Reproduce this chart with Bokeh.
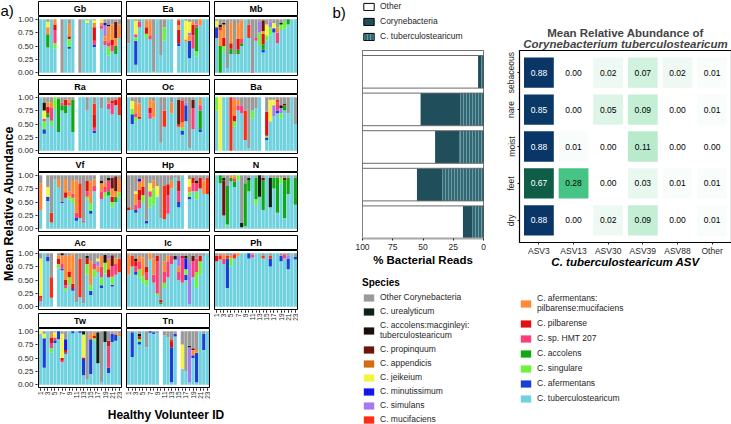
import math, re
import numpy as np
from bokeh.plotting import figure
from bokeh.layouts import row, column
from bokeh.models import (ColumnDataSource, Range1d, FactorRange, FixedTicker,
                          NumeralTickFormatter, Legend, LegendItem, LinearColorMapper, Title)
from bokeh.transform import dodge, transform
from bokeh.core.properties import value
from bokeh.embed import file_html
from bokeh.resources import INLINE

FONT = "Liberation Sans"

# ---------------- data ----------------
SPECIES_CODES = ["OC", "UR", "AMT", "PR", "AP", "JE", "MI", "SI", "MU",
                 "APM", "PI", "HMT", "AC", "SG", "AF", "TU"]
SPECIES_LABELS = ["Other Corynebacteria", "C. urealyticum",
                  "C. accolens:macginleyi:\ntuberculostearicum", "C. propinquum",
                  "C. appendicis", "C. jeikeium", "C. minutissimum", "C. simulans",
                  "C. mucifaciens", "C. afermentans:\npilbarense:mucifaciens",
                  "C. pilbarense", "C. sp. HMT 207", "C. accolens", "C. singulare",
                  "C. afermentans", "C. tuberculostearicum"]
SPECIES_COLORS = ["#9a9a9a", "#0d2116", "#1c0e0b", "#6b150c", "#d16d13", "#f4f53d",
                  "#1414ee", "#a47af0", "#ff2b12", "#ff8a33", "#e30e0e", "#ff3d7a",
                  "#0fa812", "#6cf43c", "#1a3fd6", "#70d2df"]

VOLUNTEERS = list(range(1, 24))
VOL_LABELED = list(range(1, 24, 2))

# each bar: species code + percent; remainder = Other Corynebacteria; "" = no sample
Gb = ["TU100", "TU100", "TU47 AC25 JE10 APM13", "TU100", "TU45 SG10 HMT25 PI10 APM10", "",
      "OC100", "TU100", "TU45 AF3 SG15 PI5 APM25", "TU100", "", "OC100",
      "TU100", "TU93 JE5", "TU100", "TU48 AF4 HMT8 PI25 APM8 JE5", "", "TU82 HMT6 APM6 JE6",
      "TU52 HMT8 APM8 SI20 MI5", "TU32 SG17 HMT8 APM30 UR3", "TU40 HMT12 PI10 APM28",
      "TU35 AC15 APM15 PR30", "TU65 APM25"]
Ea = ["TU55", "TU100", "TU15 AF45 SG7 HMT5 JE25", "TU85 HMT10", "TU100", "TU65 SG8 PI12 APM12",
      "TU62 HMT8 APM27", "SG2", "TU100", "TU33", "TU60 SG25", "TU100",
      "TU100", "", "TU50 AF5 PI25 APM8 MU10", "TU100", "TU58 APM4 JE35", "TU27 AF33 APM10 SI5 JE20",
      "TU45 HMT25 PI20 APM5", "TU30 SG10 AC45 HMT5", "TU88 APM12", "TU100", "TU100"]
Mb = ["TU65 AF20 JE12", "AC50 APM30 MU5 UR5", "TU40 SG10 PI15 APM25 AMT3", "TU8",
      "TU35 AC10 PI10 APM40", "TU35", "TU35 AC8 PI20 APM30", "TU50 AC5 HMT8 APM35", "TU100",
      "TU65 MU25", "HMT3", "TU60 HMT5", "TU50 SG25 SI20", "TU38 AF5 AC10 PI20 APM5 PR20",
      "TU60 SG10 JE20", "TU70 SG15 SI10", "TU75 AF8 JE10", "TU55 HMT20 APM10", "TU80 SG10 UR4",
      "TU82 SG15", "TU90 AC10", "TU100", "TU100"]
Ra = ["TU100", "TU32 AF8 SG15 HMT5 JE15 AMT15", "TU62 AC8 PI12 APM8", "TU48 SG8 HMT25 APM10",
      "TU78 SG22", "TU35 AC62", "TU75 AC10 HMT5", "TU70 AC15 PI10", "TU85 HMT5 APM5",
      "TU35 AC60", "", "TU100", "TU100", "TU75", "TU100", "TU33 AF5 HMT5 PI25 MU20", "TU100",
      "TU80", "TU100", "TU78 HMT10 APM5", "TU68 HMT20 PI5", "TU85 PI10", "TU67 MU33"]
Oc = ["TU100", "TU50 AF18 SG10 JE15", "TU55 SG8 HMT7 APM20", "TU60 PI3 APM25", "TU100",
      "TU100", "TU60 HMT10 PI10 APM15", "TU62 APM30", "TU100", "TU15", "TU45 MU30", "TU100",
      "TU70 APM20", "TU100", "TU45 MU5 PR45", "TU30 AF8 SG5 APM10 MU40", "TU55 AF30 SI5", "TU5",
      "TU40 HMT40 PR15", "TU100", "TU35 AF5 AC35 HMT10 APM10", "TU100", "TU100"]
Ba = ["TU75 SG25", "JE100", "TU100", "TU100", "MU100", "TU45 SG10 PI10 APM30",
      "TU75 HMT10 APM10 SI3", "TU70 HMT15", "TU20 MU55", "TU5", "TU60 SG15", "TU80",
      "TU100", "", "TU20 AF5 SG3 PI45", "TU55 JE40", "TU65 SI20 JE10", "TU70 AF5 HMT15 MU5",
      "TU60 SG10 SI10 AMT5", "TU75 AC10 PR3", "TU70", "TU100", "TU50"]
Vf = ["TU35 APM50", "", "TU52 AF8 JE18", "TU12 MU18", "TU92", "TU78 APM15", "TU48 AF2",
      "TU58 PI10 APM25", "TU55 SG5 APM10", "TU48 SG10 HMT8 APM25", "TU15 AF5 HMT10 APM60",
      "TU20 MU65", "TU12 HMT3", "TU55 SG5 HMT10 PI20", "TU28 AF5 SG15 APM40", "TU70 HMT10 APM12",
      "", "TU55 HMT15 APM15 UR5", "TU58 SG10 HMT10 APM10", "TU62 AC8 HMT20 UR5",
      "TU40 SG10 PI10 APM15 PR20", "TU50 AC10 APM10 PR28", "TU58 SG10 APM25"]
Hp = ["TU35 PI5", "TU35", "TU30 AF5 HMT10 APM20 JE5", "TU38 HMT15 PI20 APM15 MI5",
      "TU48 SG15 PI15 APM15", "TU10 AF5", "TU40 SG20 HMT10 JE15", "TU45 SG30 APM15", "TU60 JE20",
      "TU20", "TU18 MU62", "TU28 HMT35 PI20", "TU75 APM15", "TU95", "TU40 AF10 HMT20 PI20",
      "TU100", "", "TU55 AF5 SG8 APM10 JE15", "TU70 HMT15 PI10", "TU55 SG15 HMT15 UR5",
      "TU75 PI20", "TU65 APM25", "TU65 MU30"]
N = ["TU100", "TU85 AC15", "TU25 PR65 UR5", "TU5 SG3 AC72", "TU88 AC7 APM5", "TU78 AC10 HMT5 APM5",
     "TU90 SG10", "TU3 UR8", "TU5 AC80", "TU70 AC20 UR5", "TU100", "TU45 SG10 AC40", "TU60 UR40",
     "TU35 AC55 PR5", "TU100", "TU40 UR55", "TU75 AC20", "TU30 AC65", "TU85 SG10", "TU20 AC70 PR5",
     "TU65 AC30", "TU100", "TU45 AC50"]
Ac = ["TU10 HMT5 MU5 JE70", "TU100", "TU85 AF8", "TU17 MU38", "", "TU72 SG8 PI10 APM5",
      "TU68 AF3 HMT10 APM15 AMT4", "TU30 SG5 HMT5 PI10 APM45", "TU40 SG15 PI10 APM30",
      "TU30 AF3 PI10 APM55", "TU8", "TU18 MU72", "TU6", "TU60 SG20 PI10 UR5", "TU22 AF8 SG10 APM45",
      "TU55 SG15 HMT10", "TU65 APM10 SI10 JE5", "TU35 AF5 SG15 HMT20 APM20", "TU62 SG20 AMT15",
      "TU55 PI15 APM20 SI5", "TU38 AF3 SG15 HMT20 PR20", "TU60 HMT20 APM10", "TU65 MU25"]
Ic = ["TU60 APM38", "TU75 MU20", "TU60 AF5 HMT10 PI10 AMT5", "TU55 SG15 HMT15 APM10",
      "TU45 SG12 APM35", "TU40 SG10 HMT15 PI10", "TU88 APM12", "TU45 HMT15 APM30",
      "TU20 SG5 HMT60 PI10", "TU5 AC3 PI5", "TU35 SG10 HMT20 APM20", "TU55 HMT30 APM10",
      "TU80 HMT15", "TU88 UR7", "TU50 HMT15 APM10 SI20", "TU45 HMT45 PI5", "TU50 AF10 SG10 MI20 UR5",
      "TU5 SI75", "TU55 HMT30 PR10", "TU35 SG30 HMT25", "TU60 SG25 PI10", "TU95", "TU100"]
Ph = ["TU85 PI10", "TU88 MU8", "TU80 HMT10 APM8", "TU35 AF55 MU5", "TU75 SG15 APM5", "TU90 MU8",
      "TU95 APM5", "TU100", "TU100", "TU90 AF10", "TU92 HMT5", "TU100", "TU100", "TU90 MU5",
      "TU100", "TU75 AF15 MU5", "TU100", "TU100", "TU85 AF10", "TU90 HMT8", "TU70 AF20 SI5",
      "TU100", "TU88 AF5"]
Tw = ["TU95 JE5", "TU32 AF55 JE8", "TU100", "TU60 SG8 HMT10 PI10 APM7", "TU78 AF5 HMT5 JE10",
      "TU85 AF15", "TU42 HMT3 PI5 JE45", "TU58 AF2 PI5 MI20", "TU100", "TU96 AF4", "TU100",
      "TU97 MI3", "TU18 AF30 PI3 JE43 UR6", "TU10", "TU20 AF65 APM10", "TU82 SG5 PI5 APM5",
      "TU40 UR58", "TU5", "TU80 UR20", "TU22 AF10 HMT40 PI10", "TU80 AF15", "TU82 AF12 APM3",
      "TU90 APM5"]
Tn = ["TU98", "TU52 AF46", "TU100", "TU75 AF5 SG5 PI5 AMT5", "TU100", "TU70", "TU97 AF3",
      "TU95 MI3", "TU96", "", "TU92", "TU88", "TU5 AF65 PI10 MU5", "TU90 AF5", "", "TU30 JE45",
      "TU25", "TU5 SI65 UR3", "TU50 AF5 APM10 PR3", "TU5 AF55 APM5", "TU100", "TU65 AF30", "TU100"]

FACET_NAMES = ["Gb", "Ea", "Mb", "Ra", "Oc", "Ba", "Vf", "Hp", "N", "Ac", "Ic", "Ph", "Tw", "Tn"]
FACET_DATA = [Gb, Ea, Mb, Ra, Oc, Ba, Vf, Hp, N, Ac, Ic, Ph, Tw, Tn]

# panel b
SITES = ["sebaceous", "nare", "moist", "feet", "dry"]
CORY_PCT = [4.5, 52, 40, 55, 17]      # % reads Corynebacteria (incl. C. tuberculostearicum)
TUB_PCT = [1.8, 19, 20, 34, 9]        # % reads C. tuberculostearicum
PCT_TICKS = [0, 25, 50, 75, 100]

ASVS = ["ASV3", "ASV13", "ASV30", "ASV39", "ASV88", "Other"]
SEBACEOUS = [0.88, 0.00, 0.02, 0.07, 0.02, 0.01]
NARE = [0.85, 0.00, 0.05, 0.09, 0.00, 0.01]
MOIST = [0.88, 0.01, 0.00, 0.11, 0.00, 0.00]
FEET = [0.67, 0.28, 0.00, 0.03, 0.01, 0.01]
DRY = [0.88, 0.00, 0.02, 0.09, 0.00, 0.01]
HEAT_ROWS = [SEBACEOUS, NARE, MOIST, FEET, DRY]

# ---------------- styles ----------------
COLOR = dict(zip(SPECIES_CODES, SPECIES_COLORS))
STACK = SPECIES_CODES[::-1]
CORY_COLOR = "#204e5b"
TUB_COLOR = "#326874"
HATCH = "#6c9ba4"
TXT = "#262626"


def parse_bar(s):
    parts = {c: float(n) for c, n in re.findall(r"([A-Z]+)(\d+)", s)}
    if s and "OC" not in parts:
        parts["OC"] = max(0.0, 100.0 - sum(parts.values()))
    return parts


def facet_source(bars):
    xs, b, t, c = [], [], [], []
    for vol, s in zip(VOLUNTEERS, bars):
        if not s:
            continue
        parts = parse_bar(s)
        y = 0.0
        for code in STACK:
            v = parts.get(code, 0.0)
            if v > 0:
                xs.append(vol); b.append(y / 100); t.append((y + v) / 100)
                c.append(COLOR[code]); y += v
    return ColumnDataSource(dict(x=xs, bottom=b, top=t, color=c))


def clean(p):
    p.outline_line_color = None
    p.grid.grid_line_color = None
    p.background_fill_color = "white"
    p.border_fill_color = "white"


def style_axis(ax, size="8px"):
    ax.major_label_text_font = FONT
    ax.major_label_text_font_size = size
    ax.major_label_text_color = TXT
    ax.axis_line_color = None
    ax.major_tick_line_color = TXT
    ax.major_tick_out = 2
    ax.major_tick_in = 0
    ax.minor_tick_line_color = None
    ax.major_label_standoff = 2


FW_IN, FH_IN, STRIP, SGAP = 83, 59, 14, 1
FRAME_W = FW_IN + 2
FRAME_H = FH_IN + STRIP + SGAP + 2
PPX = FW_IN / 23.2
PPY = FH_IN / 1.1
YLAB_W, LEFT_B, BOT_B = 14, 21, 14
COL_SP, ROW_SP = 3, 2


def facet_fig(name, bars, left_axis, bottom_axis):
    p = figure(frame_width=FRAME_W, frame_height=FRAME_H,
               x_range=Range1d(0.4 - 1 / PPX, 23.6 + 1 / PPX),
               y_range=Range1d(-0.05 - 1 / PPY, 1.05 + (SGAP + STRIP + 1) / PPY),
               output_backend="svg", toolbar_location=None,
               x_axis_location="below" if bottom_axis else None,
               y_axis_location="left" if left_axis else None,
               min_border_left=LEFT_B if left_axis else 0, min_border_right=0,
               min_border_top=0, min_border_bottom=BOT_B if bottom_axis else 0)
    clean(p)
    p.vbar(x="x", bottom="bottom", top="top", width=0.9, fill_color="color",
           line_color=None, source=facet_source(bars))
    p.quad(left=[0.4], right=[23.6], bottom=[-0.05], top=[1.05],
           fill_color=None, line_color="black", line_width=1)
    s0 = 1.05 + SGAP / PPY
    s1 = 1.05 + (SGAP + STRIP) / PPY
    p.quad(left=[0.4], right=[23.6], bottom=[s0], top=[s1],
           fill_color="white", line_color="black", line_width=1)
    p.text(x=[12], y=[(s0 + s1) / 2], text=[name], text_font=value(FONT),
           text_font_style="bold", text_font_size="9px", text_align="center",
           text_baseline="middle", text_color="black")
    if left_axis:
        ax = p.yaxis[0]
        style_axis(ax)
        ax.ticker = FixedTicker(ticks=[0, 0.25, 0.5, 0.75, 1.0])
        ax.formatter = NumeralTickFormatter(format="0.00")
    if bottom_axis:
        ax = p.xaxis[0]
        style_axis(ax, "6.5px")
        ax.ticker = FixedTicker(ticks=VOL_LABELED, minor_ticks=VOLUNTEERS)
        ax.minor_tick_line_color = TXT
        ax.minor_tick_out = 2
        ax.minor_tick_in = 0
        ax.major_label_orientation = math.pi / 2
        ax.major_label_standoff = 1
    return p


def deco_fig(w, h):
    p = figure(width=w, height=h, x_range=Range1d(0, w), y_range=Range1d(0, h),
               x_axis_location=None, y_axis_location=None, output_backend="svg",
               toolbar_location=None, min_border_left=0, min_border_right=0,
               min_border_top=0, min_border_bottom=0)
    clean(p)
    return p


# ---------------- panel a ----------------
layout_cols = [[0, 3, 6, 9, 12], [1, 4, 7, 10, 13], [2, 5, 8, 11]]
cols = []
for ci, idxs in enumerate(layout_cols):
    figs = []
    for k, fi in enumerate(idxs):
        figs.append(facet_fig(FACET_NAMES[fi], FACET_DATA[fi], ci == 0, k == len(idxs) - 1))
    cols.append(column(figs, spacing=ROW_SP))
grid = row(cols, spacing=COL_SP)

GRID_H = 5 * FRAME_H + 4 * ROW_SP + BOT_B
ylab = deco_fig(YLAB_W, GRID_H)
ylab.text(x=[YLAB_W / 2 + 1], y=[GRID_H - 203], text=["Mean Relative Abundance"],
          angle=math.pi / 2, text_font=value(FONT), text_font_style="bold",
          text_font_size="12.5px", text_align="center", text_baseline="middle",
          text_color="black")
ylab.text(x=[0], y=[GRID_H - 1], text=["a)"], text_font=value(FONT), text_font_size="15px",
          text_align="left", text_baseline="top", text_color="black")

PANEL_A_W = YLAB_W + LEFT_B + 3 * FRAME_W + 2 * COL_SP
XLAB_H = 424 - GRID_H
xlab = deco_fig(PANEL_A_W, XLAB_H)
xlab.text(x=[YLAB_W + LEFT_B + (3 * FRAME_W + 2 * COL_SP) / 2], y=[XLAB_H - 12],
          text=["Healthy Volunteer ID"], text_font=value(FONT), text_font_style="bold",
          text_font_size="12px", text_align="center", text_baseline="middle",
          text_color="black")
panel_a = column(row(ylab, grid, spacing=0), xlab, spacing=0)

# ---------------- panel b: bar chart column ----------------
BAR_LB, BAR_RB, BAR_FW = 9, 3, 121
BARCOL_W = BAR_LB + BAR_FW + BAR_RB
TOPLG_H = 50
BAR_BB = 32
BAR_H = 188 + BAR_BB
BFIG_W = 360 - BAR_LB - PANEL_A_W
bfig = deco_fig(BFIG_W, 30)
bfig.text(x=[330 - PANEL_A_W], y=[27], text=["b)"], text_font=value(FONT),
          text_font_size="15px", text_align="left", text_baseline="top", text_color="black")

toplg = figure(width=BARCOL_W, height=TOPLG_H, x_range=Range1d(0, 1),
               y_range=Range1d(0, 1), x_axis_location=None, y_axis_location=None,
               output_backend="svg", toolbar_location=None, min_border_left=BAR_LB,
               min_border_right=BAR_RB, min_border_top=1, min_border_bottom=0)
clean(toplg)
# legend proxies (outside the visible range)
r_oth = toplg.quad(left=[2], right=[3], top=[3], bottom=[2], fill_color="white",
                   line_color="black", line_width=1)
r_cor = toplg.quad(left=[2], right=[3], top=[3], bottom=[2], fill_color=CORY_COLOR,
                   line_color="black", line_width=1)
r_tub = toplg.quad(left=[2], right=[3], top=[3], bottom=[2], fill_color=TUB_COLOR,
                   hatch_pattern="vertical_line", hatch_color=HATCH, hatch_scale=3,
                   hatch_weight=1, line_color="black", line_width=1)
tleg = Legend(items=[LegendItem(label="Other", renderers=[r_oth]),
                     LegendItem(label="Corynebacteria", renderers=[r_cor]),
                     LegendItem(label="C. tuberculostearicum", renderers=[r_tub])],
              location="top_left", margin=0, padding=0, spacing=5, glyph_width=13,
              glyph_height=9, label_height=9, label_standoff=5,
              label_text_font=FONT, label_text_font_size="8.5px",
              label_text_color=TXT, border_line_color=None, background_fill_alpha=0)
toplg.add_layout(tleg)

barfig = figure(width=BARCOL_W, height=BAR_H, x_range=Range1d(100, 0),
                y_range=FactorRange(*SITES[::-1]), y_axis_location=None,
                output_backend="svg", toolbar_location=None, min_border_left=BAR_LB,
                min_border_right=BAR_RB, min_border_top=0, min_border_bottom=BAR_BB)
clean(barfig)
barfig.outline_line_color = "#555555"
bsrc = ColumnDataSource(dict(site=SITES, cory=CORY_PCT, tub=TUB_PCT))
SH = 5 / (188 / 5)
ybar = dodge("site", -SH / 2, range=barfig.y_range)
barfig.hbar(y=ybar, left="cory", right=100, height=1 - SH, fill_color="white",
            line_color=None, source=bsrc)
barfig.hbar(y=ybar, left="tub", right="cory", height=1 - SH, fill_color=CORY_COLOR,
            line_color=None, source=bsrc)
barfig.hbar(y=ybar, left=0, right="tub", height=1 - SH, fill_color=TUB_COLOR,
            hatch_pattern="vertical_line", hatch_color=HATCH, hatch_scale=3,
            hatch_weight=1, line_color=None, source=bsrc)
barfig.hbar(y=dodge("site", 0.5 - SH / 2, range=barfig.y_range), left=0, right=100,
            height=SH, fill_color="white", line_color="#6a6a6a", line_width=1, source=bsrc)
bax = barfig.xaxis[0]
style_axis(bax, "8.5px")
bax.ticker = FixedTicker(ticks=PCT_TICKS)
bax.axis_line_color = "#a8a8a8"
bax.axis_line_width = 2
bax.major_label_standoff = 3
bax.axis_label = "% Bacterial Reads"
bax.axis_label_text_font = FONT
bax.axis_label_text_font_style = "bold"
bax.axis_label_text_font_size = "11.5px"
bax.axis_label_text_color = "black"
bax.axis_label_standoff = 1

# ---------------- panel b: heatmap ----------------
anchors = [(0.0, "#ffffff"), (0.01, "#f5fbf8"), (0.02, "#ecf9f2"), (0.05, "#dcf5e7"),
           (0.1, "#bdedd0"), (0.28, "#46c482"), (0.5, "#178a5a"), (0.67, "#0d5d47"),
           (0.8, "#0b3f69"), (0.9, "#0a3466")]
av = np.array([a[0] for a in anchors])
ac = np.array([[int(a[1][i:i + 2], 16) for i in (1, 3, 5)] for a in anchors], float)
grid_v = np.linspace(0, 0.9, 256)
pal = ["#%02x%02x%02x" % tuple(int(round(np.interp(g, av, ac[:, k]))) for k in range(3))
       for g in grid_v]
mapper = LinearColorMapper(palette=pal, low=0, high=0.9)

hx, hy, hv, hl, hc = [], [], [], [], []
for site, vals in zip(SITES, HEAT_ROWS):
    for asv, v in zip(ASVS, vals):
        hx.append(asv); hy.append(site); hv.append(v)
        hl.append("%.2f" % v); hc.append("white" if v > 0.5 else "black")
hsrc = ColumnDataSource(dict(asv=hx, site=hy, v=hv, label=hl, tc=hc))

HM_X0 = PANEL_A_W + BFIG_W + BARCOL_W
HM_W = 731 - HM_X0
HM_LB = 501 - HM_X0
HM_BB = 38
HM_H = TOPLG_H + 192 + HM_BB
hm = figure(width=HM_W, height=HM_H,
            x_range=FactorRange(*ASVS, range_padding=0.02),
            y_range=FactorRange(*SITES[::-1], range_padding=0.04),
            output_backend="svg", toolbar_location=None, min_border_left=HM_LB,
            min_border_right=2, min_border_top=TOPLG_H, min_border_bottom=HM_BB)
clean(hm)
hm.outline_line_color = "black"
hm.outline_line_width = 1.2
hm.rect(x="asv", y="site", width=0.86, height=0.82, fill_color=transform("v", mapper),
        line_color=None, source=hsrc)
hm.text(x="asv", y="site", text="label", text_color="tc", text_font=value(FONT),
        text_font_size="8.5px", text_align="center", text_baseline="middle", source=hsrc)
for ax in (hm.xaxis[0], hm.yaxis[0]):
    style_axis(ax, "8.5px")
hm.yaxis[0].major_label_orientation = "parallel"
hm.yaxis[0].major_label_standoff = 1
hm.xaxis[0].major_label_standoff = 1
hm.xaxis[0].axis_label = "C. tuberculostearicum ASV"
hm.xaxis[0].axis_label_text_font = FONT
hm.xaxis[0].axis_label_text_font_style = "bold italic"
hm.xaxis[0].axis_label_text_font_size = "11.5px"
hm.xaxis[0].axis_label_text_color = "black"
hm.xaxis[0].axis_label_standoff = -3
hm.add_layout(Title(text="Corynebacterium tuberculostearicum", align="center",
                    text_font=FONT, text_font_style="bold italic", text_font_size="11.5px",
                    standoff=1), "above")
hm.add_layout(Title(text="Mean Relative Abundance of", align="center", text_font=FONT,
                    text_font_style="bold", text_font_size="11.5px", standoff=-7), "above")


# ---------------- species legend ----------------
def legend_fig(w, h, left, top, codes, title=None, spacing=4):
    p = figure(width=w, height=h, x_range=Range1d(0, 1), y_range=Range1d(0, 1),
               x_axis_location=None, y_axis_location=None, output_backend="svg",
               toolbar_location=None, min_border_left=left, min_border_right=0,
               min_border_top=top, min_border_bottom=0)
    clean(p)
    items = []
    for code in codes:
        i = SPECIES_CODES.index(code)
        # legend proxy outside the visible range
        r = p.quad(left=[2], right=[3], top=[3], bottom=[2], fill_color=SPECIES_COLORS[i],
                   line_color=None)
        items.append(LegendItem(label=SPECIES_LABELS[i], renderers=[r]))
    lg = Legend(items=items, location="top_left", margin=0, padding=0, spacing=spacing,
                glyph_width=13, glyph_height=9, label_height=10, label_standoff=5,
                label_text_font=FONT, label_text_font_size="8.5px", label_text_color=TXT,
                label_text_line_height=1.05,
                border_line_color=None, background_fill_alpha=0)
    if title:
        lg.title = title
        lg.title_text_font = FONT
        lg.title_text_font_style = "bold"
        lg.title_text_font_size = "10px"
        lg.title_text_color = "black"
        lg.title_standoff = 4
    p.add_layout(lg)
    return p


LG1_TOP = TOPLG_H + BAR_H
lg1 = legend_fig(BARCOL_W, 424 - LG1_TOP, BAR_LB, 277 - LG1_TOP, SPECIES_CODES[:9], "Species")
LG2_TOP = HM_H
lg2 = legend_fig(HM_W, 424 - LG2_TOP, 517 - HM_X0, 293 - LG2_TOP, SPECIES_CODES[9:],
                 spacing=5)

panel_b = row(bfig, column(toplg, barfig, lg1, spacing=0), column(hm, lg2, spacing=0),
              spacing=0)

layout = row(panel_a, panel_b, spacing=0)
open("out.html", "w").write(file_html(layout, INLINE))
